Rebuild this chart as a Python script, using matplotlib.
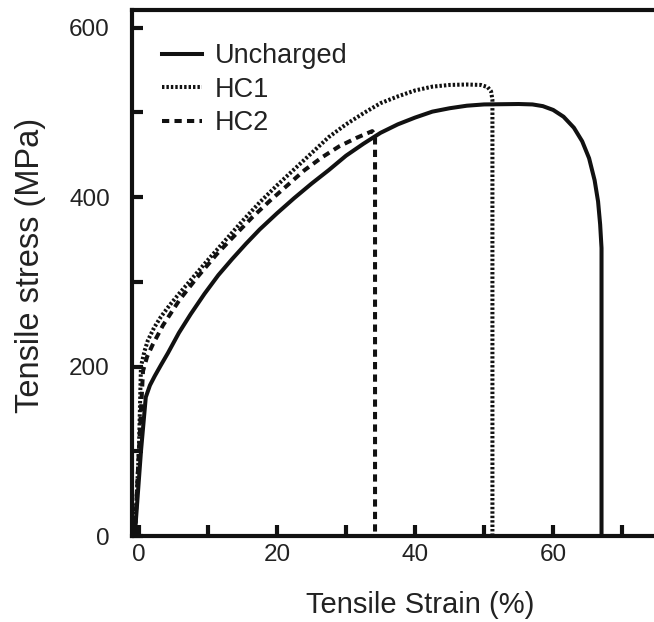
import matplotlib
matplotlib.use("Agg")
import matplotlib.pyplot as plt
from matplotlib.ticker import MultipleLocator, FuncFormatter

plt.rcParams['font.family'] = ['Liberation Sans', 'DejaVu Sans']

# ---- data ----
uncharged_strain = [-0.6, 0.3, 1.0, 1.6, 2.3, 3.2, 4.2, 5.8, 7.5, 9.5, 11.5, 13.5,
                    15.5, 17.5, 20.0, 22.5, 25.0, 27.5, 30.0, 32.5, 35.0, 37.5,
                    40.0, 42.5, 45.0, 47.5, 50.0, 55.0, 57.0, 58.5, 60.0, 61.5,
                    63.0, 64.2, 65.2, 66.0, 66.5, 66.8, 67.0, 67.0]
uncharged_stress = [0, 100, 164, 178, 189, 202, 216, 240, 262, 286, 308, 327,
                    345, 362, 381, 399, 416, 432, 449, 463, 476, 486,
                    494, 501, 505, 508, 509.5, 510, 509.5, 507.5, 503, 495,
                    482, 466, 446, 420, 395, 368, 340, 0]

hc1_strain = [-0.6, 0.0, 0.3, 0.8, 1.3, 2.2, 3.2, 4.4, 5.7, 7.8, 10.0, 12.5,
              15.0, 17.5, 20.0, 22.5, 25.0, 27.5, 30.0, 32.5, 35.0, 37.5,
              40.0, 42.5, 45.0, 47.5, 49.5, 50.5, 51.0, 51.2, 51.2]
hc1_stress = [0, 100, 200, 218, 231, 246, 259, 272, 285, 305, 326, 349,
              372, 394, 414, 433, 452, 471, 486, 499, 511, 519,
              526, 530.5, 532.5, 533, 532.5, 530, 525, 515, 0]

hc2_strain = [-0.6, 0.0, 0.6, 1.2, 2.0, 3.5, 5.9, 8.4, 11.3, 14.0, 16.5, 19.0,
              21.5, 24.0, 26.5, 29.0, 31.5, 33.8, 34.2, 34.2]
hc2_stress = [0, 100, 195, 212, 226, 249, 279, 305, 333, 356, 377, 396,
              414, 432, 447, 460, 470, 478, 474, 0]

series_labels = ["Uncharged", "HC1", "HC2"]
x_tick_labels = [0, 20, 40, 60]
y_tick_labels = [0, 200, 400, 600]

ink = '#111111'
txt = '#222222'
fig = plt.figure(figsize=(6.54, 6.22), dpi=100)
ax = fig.add_axes([0.2018, 0.138, 0.7982, 0.846])

lw = 2.9
ax.plot(uncharged_strain, uncharged_stress, color=ink, lw=lw,
        solid_joinstyle='round', label=series_labels[0])
ax.plot(hc1_strain, hc1_stress, color=ink, lw=lw,
        linestyle=(0, (0.6, 0.5)), dash_capstyle='butt', label=series_labels[1])
ax.plot(hc2_strain, hc2_stress, color=ink, lw=lw,
        linestyle=(0, (1.8, 1.3)), dash_capstyle='butt', label=series_labels[2])

ax.set_xlim(-1.0, 74.6)
ax.set_ylim(0, 621)

ax.xaxis.set_major_locator(MultipleLocator(10))
ax.yaxis.set_major_locator(MultipleLocator(100))
ax.xaxis.set_major_formatter(FuncFormatter(
    lambda v, p: f"{int(round(v))}" if int(round(v)) in x_tick_labels else ""))
ax.yaxis.set_major_formatter(FuncFormatter(
    lambda v, p: f"{int(round(v))}" if int(round(v)) in y_tick_labels else ""))

for s in ax.spines.values():
    s.set_linewidth(3.0)
    s.set_color(ink)
ax.spines['right'].set_visible(False)

ax.tick_params(axis='both', direction='in', length=8, width=3.0, color=ink,
               labelsize=17.5, labelcolor=txt)
ax.tick_params(axis='y', pad=16)
ax.tick_params(axis='x', pad=6)

ax.set_xlabel("Tensile Strain (%)", fontsize=21, color=txt)
ax.xaxis.set_label_coords(0.552, -0.104)
ax.set_ylabel("Tensile stress (MPa)", fontsize=23.5, color=txt)
ax.yaxis.set_label_coords(-0.165, 0.515)

leg = ax.legend(loc='upper left', frameon=False, fontsize=19.5,
                handlelength=1.5, handletextpad=0.45, labelspacing=0.27,
                borderaxespad=0.0, bbox_to_anchor=(0.036, 0.957))
for t in leg.get_texts():
    t.set_color(txt)

fig.savefig("out.png", dpi=100)
